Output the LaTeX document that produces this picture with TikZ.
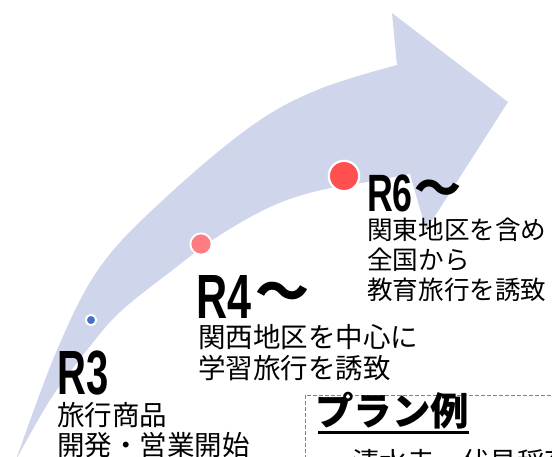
\documentclass[tikz,border=0pt]{standalone}
\usepackage{fontspec}
\newfontfamily\jp{Noto Sans CJK JP}
\newfontfamily\lab{Liberation Sans}
\definecolor{band}{HTML}{CFD5EA}
\definecolor{dotblue}{HTML}{4472C4}
\definecolor{dotpink}{HTML}{FF7C80}
\definecolor{dotred}{HTML}{FF5050}
\definecolor{boxgray}{HTML}{808080}
\tikzset{
  txt/.style={anchor=base west, inner sep=0pt, font=\jp\fontsize{27.5}{31}\selectfont},
  txtsm/.style={anchor=base west, inner sep=0pt, font=\jp\fontsize{25.6}{30}\selectfont},
  rbig/.style={anchor=base west, inner sep=0pt, font=\lab\bfseries\fontsize{62.5}{63}\selectfont},
  rsmall/.style={anchor=base west, inner sep=0pt, font=\lab\bfseries\fontsize{52.5}{53}\selectfont},
  wave/.style={inner sep=0pt},
  dot/.style={circle, draw=white, inner sep=0pt},
  planbox/.style={draw=boxgray, line width=1pt, dash pattern=on 4pt off 2pt}
}
\begin{document}
\begin{tikzpicture}[x=1pt,y=-1pt]
\useasboundingbox (0,0) rectangle (552,456);
\clip (0,0) rectangle (552,456);
% curved arrow
\fill[band] plot[smooth, tension=0.6] coordinates {(16,460) (57,350) (100,267) (163,200) (250,127) (317,90) (397,65)}
  -- (392,13) -- (508,102) -- (426,230) -- (410,174)
  -- plot[smooth, tension=0.6] coordinates {(410,174) (367,182) (317,191) (270,207) (217,237) (170,272) (120,312) (87,350) (50,400) (16,460)} -- cycle;
% dots
\node[dot, fill=dotblue, line width=2pt, minimum size=10.4pt] (d3) at (91,320) {};
\node[dot, fill=dotpink, line width=1.8pt, minimum size=21.2pt] (d4) at (201,244) {};
\node[dot, fill=dotred, line width=2.2pt, minimum size=30.4pt] (d6) at (344,176) {};
% R3
\node[rbig] (r3) at (57,394) {\scalebox{0.64}[1]{R3}};
\node[txt] (r3a) at (57,425) {旅行商品};
\node[txt] (r3b) at (57,455) {開発・営業開始};
% R4
\node[rbig] (r4) at (196,318) {\scalebox{0.69}[1]{R4}};
\node[wave, font=\jp\bfseries\fontsize{54}{54}\selectfont] (w4) at (282,297) {～};
\node[txt] (r4a) at (198,347) {関西地区を中心に};
\node[txt] (r4b) at (198,378) {学習旅行を誘致};
% R6
\node[rsmall] (r6) at (367,211) {\scalebox{0.68}[1]{R6}};
\node[wave, font=\jp\bfseries\fontsize{47}{47}\selectfont] (w6) at (438,193) {～};
\node[txtsm] (r6a) at (367,239) {関東地区を含め};
\node[txtsm] (r6b) at (367,269) {全国から};
\node[txtsm] (r6c) at (367,299) {教育旅行を誘致};
% plan box
\draw[planbox] (305,395) rectangle (620,620);
\node[anchor=base west, inner sep=0pt, font=\jp\bfseries\fontsize{38.5}{38.5}\selectfont] (plan) at (315,425.5) {プラン例};
\draw[line width=3pt] ([xshift=3pt,yshift=-6.5pt]plan.base west) -- ([yshift=-6.5pt]plan.base east);
\node[txt] (pl1) at (352,472) {清水寺・伏見稲荷大社};
\end{tikzpicture}
\end{document}
